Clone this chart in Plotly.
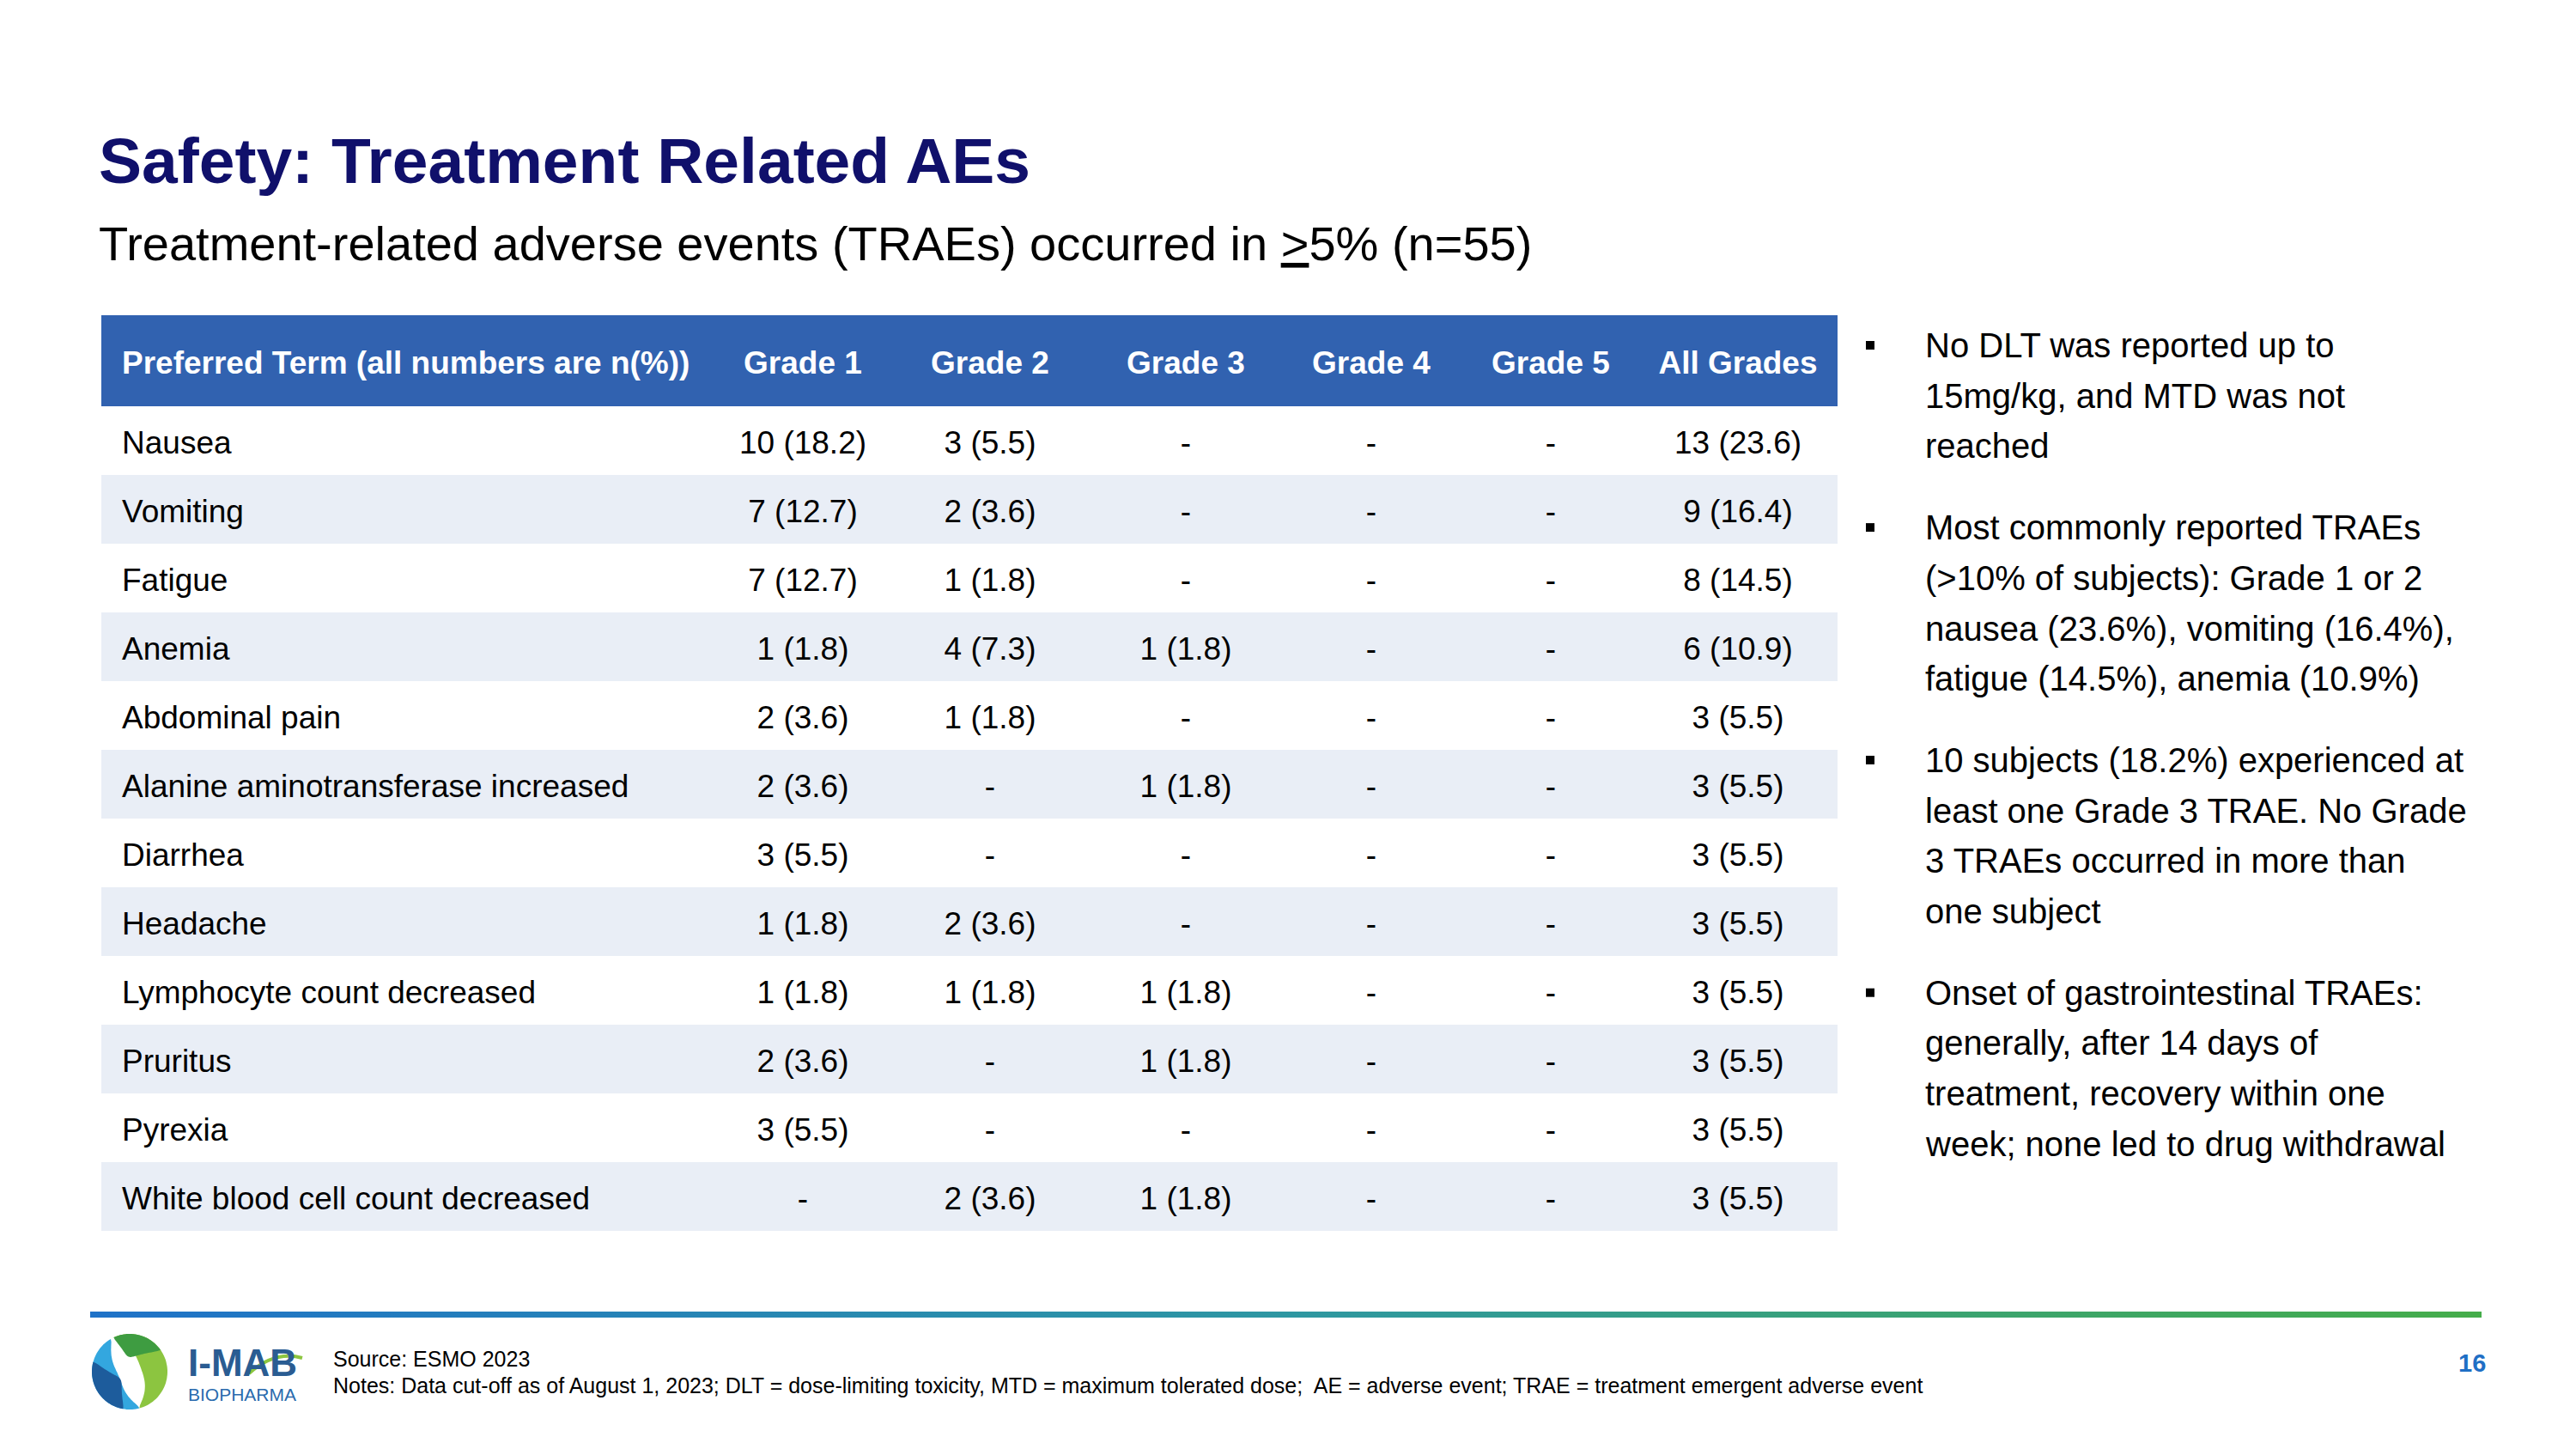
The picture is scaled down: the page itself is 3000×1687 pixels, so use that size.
import numpy as np
import plotly.graph_objects as go

W, H = 3000, 1687
OFF = 8  # default page body margin of the html page
FONT = "Liberation Sans, Arial, sans-serif"

# ---------------- data ----------------
title = "Safety: Treatment Related AEs"
subtitle = "Treatment-related adverse events (TRAEs) occurred in <u>&gt;</u>5% (n=55)"

headers = ["Preferred Term (all numbers are n(%))", "Grade 1", "Grade 2",
           "Grade 3", "Grade 4", "Grade 5", "All Grades"]

terms = ["Nausea", "Vomiting", "Fatigue", "Anemia", "Abdominal pain",
         "Alanine aminotransferase increased", "Diarrhea", "Headache",
         "Lymphocyte count decreased", "Pruritus", "Pyrexia",
         "White blood cell count decreased"]
grade1 = ["10 (18.2)", "7 (12.7)", "7 (12.7)", "1 (1.8)", "2 (3.6)", "2 (3.6)",
          "3 (5.5)", "1 (1.8)", "1 (1.8)", "2 (3.6)", "3 (5.5)", "-"]
grade2 = ["3 (5.5)", "2 (3.6)", "1 (1.8)", "4 (7.3)", "1 (1.8)", "-",
          "-", "2 (3.6)", "1 (1.8)", "-", "-", "2 (3.6)"]
grade3 = ["-", "-", "-", "1 (1.8)", "-", "1 (1.8)",
          "-", "-", "1 (1.8)", "1 (1.8)", "-", "1 (1.8)"]
grade4 = ["-", "-", "-", "-", "-", "-", "-", "-", "-", "-", "-", "-"]
grade5 = ["-", "-", "-", "-", "-", "-", "-", "-", "-", "-", "-", "-"]
all_grades = ["13 (23.6)", "9 (16.4)", "8 (14.5)", "6 (10.9)", "3 (5.5)", "3 (5.5)",
              "3 (5.5)", "3 (5.5)", "3 (5.5)", "3 (5.5)", "3 (5.5)", "3 (5.5)"]

bullets = [
    ["No DLT was reported up to", "15mg/kg, and MTD was not", "reached"],
    ["Most commonly reported TRAEs", "(>10% of subjects): Grade 1 or 2",
     "nausea (23.6%), vomiting (16.4%),", "fatigue (14.5%), anemia (10.9%)"],
    ["10 subjects (18.2%) experienced at", "least one Grade 3 TRAE. No Grade",
     "3 TRAEs occurred in more than", "one subject"],
    ["Onset of gastrointestinal TRAEs:", "generally, after 14 days of",
     "treatment, recovery within one", "week; none led to drug withdrawal"],
]

source_text = "Source: ESMO 2023"
notes_text = ("Notes: Data cut-off as of August 1, 2023; DLT = dose-limiting toxicity, "
              "MTD = maximum tolerated dose;&nbsp; AE = adverse event; "
              "TRAE = treatment emergent adverse event")
page_no = "16"

# ---------------- styles / layout geometry ----------------
NAVY = "#10106B"
HEAD_BLUE = "#3162B0"
ROW_ALT = "#E9EEF6"
TXT = "#000000"

TBL_L, TBL_R = 118, 2140
HEAD_TOP, HEAD_H, ROW_H = 367, 106, 80
col_centers = [None, 935, 1153, 1381, 1597, 1806, 2024]
first_col_x = 142
TBL_FS = 37

fig = go.Figure()
shapes = []

# header background
shapes.append(dict(type="rect", xref="x", yref="y", x0=TBL_L, x1=TBL_R,
                   y0=HEAD_TOP, y1=HEAD_TOP + HEAD_H, fillcolor=HEAD_BLUE,
                   line=dict(width=0), layer="below"))
n_rows = len(terms)
row_tops = [HEAD_TOP + HEAD_H + ROW_H * i for i in range(n_rows)]
row_mid = [t + ROW_H / 2 + 6 for t in row_tops]
for i, t in enumerate(row_tops):
    if i % 2 == 1:
        shapes.append(dict(type="rect", xref="x", yref="y", x0=TBL_L, x1=TBL_R,
                           y0=t, y1=t + ROW_H, fillcolor=ROW_ALT,
                           line=dict(width=0), layer="below"))

# header text
hx = [first_col_x] + col_centers[1:]
fig.add_trace(go.Scatter(
    x=hx, y=[HEAD_TOP + HEAD_H / 2 + 6] * len(headers), mode="text",
    text=[f"<b>{h}</b>" for h in headers],
    textposition=["middle right"] + ["middle center"] * 6,
    textfont=dict(family=FONT, size=TBL_FS, color="white"),
    hoverinfo="skip"))

# body text
fig.add_trace(go.Scatter(
    x=[first_col_x] * n_rows, y=row_mid, mode="text", text=terms,
    textposition="middle right",
    textfont=dict(family=FONT, size=TBL_FS, color=TXT), hoverinfo="skip"))
for cx, col in zip(col_centers[1:], [grade1, grade2, grade3, grade4, grade5, all_grades]):
    fig.add_trace(go.Scatter(
        x=[cx] * n_rows, y=row_mid, mode="text", text=col,
        textposition="middle center",
        textfont=dict(family=FONT, size=TBL_FS, color=TXT), hoverinfo="skip"))

annotations = []
# title & subtitle
annotations.append(dict(x=113, y=187, xref="x", yref="y", text=f"<b>{title}</b>",
                        showarrow=False, xanchor="left", yanchor="middle",
                        font=dict(family=FONT, size=75, color=NAVY)))
annotations.append(dict(x=113, y=283, xref="x", yref="y", text=subtitle,
                        showarrow=False, xanchor="left", yanchor="middle",
                        font=dict(family=FONT, size=56, color="#000000")))

# bullets
B_FS = 40
LINE = 58.7
GAP = 36
BX_TEXT = 2240
BX_MARK = 2178
y0 = 402
k = 0
mark_y = []
for p, lines in enumerate(bullets):
    for j, ln in enumerate(lines):
        yy = y0 + LINE * k + GAP * p
        if j == 0:
            mark_y.append(yy)
        annotations.append(dict(x=BX_TEXT, y=yy, xref="x", yref="y",
                                text=ln.replace(">", "&gt;"), showarrow=False,
                                xanchor="left", yanchor="middle",
                                font=dict(family=FONT, size=B_FS, color="#000000")))
        k += 1
fig.add_trace(go.Scatter(x=[BX_MARK] * len(mark_y), y=mark_y, mode="markers",
                         marker=dict(symbol="square", size=10, color="#000000"),
                         hoverinfo="skip"))

# footer gradient line
fig.add_trace(go.Scatter(
    x=[105, 2890, 2890, 105, 105], y=[1527, 1527, 1534, 1534, 1527],
    mode="lines", line=dict(width=0), fill="toself",
    fillgradient=dict(type="horizontal",
                      colorscale=[[0, "#1F72C8"], [0.5, "#2E97A2"], [1, "#45AD4A"]]),
    hoverinfo="skip"))

# footer texts
annotations.append(dict(x=386, y=1582, xref="x", yref="y", text=source_text,
                        showarrow=False, xanchor="left", yanchor="middle",
                        font=dict(family=FONT, size=25, color="#000000")))
annotations.append(dict(x=386, y=1613, xref="x", yref="y", text=notes_text,
                        showarrow=False, xanchor="left", yanchor="middle",
                        font=dict(family=FONT, size=25, color="#000000")))
annotations.append(dict(x=2897, y=1587, xref="x", yref="y", text=f"<b>{page_no}</b>",
                        showarrow=False, xanchor="right", yanchor="middle",
                        font=dict(family=FONT, size=29, color="#1F6FC5")))

# logo (decorative)
LCX, LCY, LR = 151, 1597, 44


def crescent(a0, a1, off, r_in, n=60):
    th = np.radians(np.linspace(a0, a1, n))
    px = LCX + LR * np.sin(th)
    py = LCY - LR * np.cos(th)
    ix = LCX + off[0] + r_in * np.sin(th)
    iy = LCY + off[1] - r_in * np.cos(th)
    t = np.linspace(0, 1, n)
    w = np.sin(np.pi * t) ** 0.7
    qx = px * (1 - w) + ix * w
    qy = py * (1 - w) + iy * w
    xs = list(px) + list(qx[::-1])
    ys = list(py) + list(qy[::-1])
    return "M " + " L ".join(f"{a:.1f},{b:.1f}" for a, b in zip(xs, ys)) + " Z"


logo_parts = [
    (crescent(165, 330, (6, -2), 20), "#33A7DF"),
    (crescent(190, 285, (6, -2), 20), "#1D5C9C"),
    (crescent(-25, 165, (-6, 2), 20), "#8CC540"),
    (crescent(-25, 55, (-6, 2), 20), "#3E9C41"),
]
for path, col in logo_parts:
    shapes.append(dict(type="path", xref="x", yref="y", path=path,
                       fillcolor=col, line=dict(width=0)))

annotations.append(dict(x=218, y=1586, xref="x", yref="y", text="<b>I-MAB</b>",
                        showarrow=False, xanchor="left", yanchor="middle",
                        borderpad=0,
                        font=dict(family=FONT, size=44, color="#2A5C92")))
annotations.append(dict(x=218, y=1623, xref="x", yref="y", text="BIOPHARMA",
                        showarrow=False, xanchor="left", yanchor="middle",
                        borderpad=0,
                        font=dict(family=FONT, size=21, color="#2A6BAE")))
shapes.append(dict(type="path", xref="x", yref="y",
                   path="M 290,1599 Q 320,1572 352,1581",
                   line=dict(color="#8CC540", width=4)))

# figure is placed 8px in from the page corner: map page pixels directly
fig.update_layout(
    width=W - OFF, height=H - OFF,
    margin=dict(l=0, r=0, t=0, b=0),
    paper_bgcolor="white", plot_bgcolor="white",
    showlegend=False,
    xaxis=dict(range=[OFF, W], visible=False, fixedrange=True),
    yaxis=dict(range=[H, OFF], visible=False, fixedrange=True),
    shapes=shapes, annotations=annotations,
)

fig.write_html("out.html")
